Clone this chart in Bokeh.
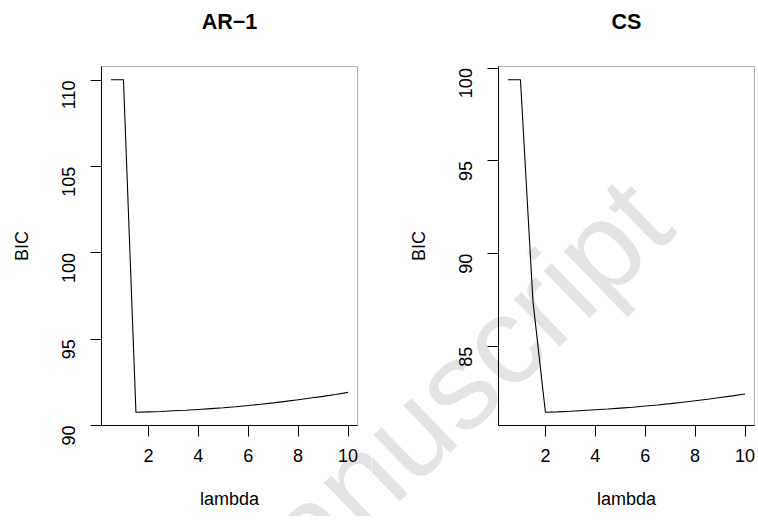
import math
from bokeh.plotting import figure
from bokeh.models import Range1d, FixedTicker, Label, LinearAxis, BoxAnnotation
from bokeh.layouts import row
from bokeh.embed import file_html
from bokeh.resources import INLINE

# ---- data ----
lam = [0.5, 1.0, 1.5, 2.0, 2.5, 3.0, 3.5, 4.0, 4.5, 5.0,
       5.5, 6.0, 6.5, 7.0, 7.5, 8.0, 8.5, 9.0, 9.5, 10.0]
bic_ar1 = [110.04, 110.04, 90.77, 90.79, 90.81, 90.85, 90.88, 90.93, 90.98, 91.03,
           91.09, 91.16, 91.23, 91.31, 91.40, 91.49, 91.59, 91.69, 91.80, 91.92]
bic_cs = [99.37, 99.37, 87.45, 81.47, 81.49, 81.52, 81.56, 81.60, 81.64, 81.69,
          81.74, 81.80, 81.86, 81.93, 82.01, 82.09, 82.17, 82.26, 82.35, 82.45]
x_ticks = [2, 4, 6, 8, 10]
ar1_ticks = [90, 95, 100, 105, 110]
cs_ticks = [85, 90, 95, 100]
titles = ["AR\u22121", "CS"]
x_label = "lambda"
y_label = "BIC"
watermark = "Manuscript"

FONT = "Liberation Sans"
TICK_FS = "18px"
TITLE_FS = "21.5px"

H = 516
BOX_TOP, BOX_BOTTOM = 66, 425      # plot box, pixels from the top of the canvas
TITLE_BASE = 21                     # title baseline, pixels from top

WM_ANGLE = math.radians(44)
WM_FS = 125
WM_START = (208.0, 625.0)           # watermark start (page pixels)


def pad(vals):
    lo, hi = min(vals), max(vals)
    d = (hi - lo) * 0.04
    return lo - d, hi + d


def panel(title, ys, yticks, width, box_left, box_right, page_x0):
    dx0, dx1 = pad(lam)
    dy0, dy1 = pad(ys)
    ppx = (box_right - box_left) / (dx1 - dx0)
    ppy = (BOX_BOTTOM - BOX_TOP) / (dy1 - dy0)
    xr = Range1d(dx0 - box_left / ppx, dx1 + (width - box_right) / ppx)
    yr = Range1d(dy0 - (H - BOX_BOTTOM) / ppy, dy1 + BOX_TOP / ppy)

    def to_x(px):
        return xr.start + (px - page_x0) / ppx

    def to_y(py):
        return yr.end - py / ppy

    p = figure(width=width, height=H, output_backend="svg", toolbar_location=None,
               x_range=xr, y_range=yr, x_axis_location=None, y_axis_location=None,
               min_border=0)
    p.background_fill_color = "white"
    p.border_fill_color = "white"
    p.outline_line_color = None
    p.grid.visible = False

    # watermark (translucent so that the marks show through)
    p.add_layout(Label(x=to_x(WM_START[0]), y=to_y(WM_START[1]), text=watermark,
                       angle=WM_ANGLE, text_font=FONT, text_font_size=f"{WM_FS}px",
                       text_color="black", text_alpha=0.11, text_align="left",
                       text_baseline="alphabetic", level="underlay"))

    p.line(lam, ys, line_color="black", line_width=1.1)

    # plot box
    p.add_layout(BoxAnnotation(left=dx0, right=dx1, bottom=dy0, top=dy1,
                               fill_color=None, fill_alpha=0, line_color="black",
                               line_width=1, level="overlay"))

    # title
    p.add_layout(Label(x=(dx0 + dx1) / 2, y=to_y(TITLE_BASE), text=title,
                       text_font=FONT, text_font_size=TITLE_FS, text_font_style="bold",
                       text_color="black", text_align="center",
                       text_baseline="alphabetic"))

    xa = LinearAxis(fixed_location=dy0, ticker=FixedTicker(ticks=x_ticks),
                    axis_label=x_label, bounds=(dx0, dx1))
    ya = LinearAxis(fixed_location=dx0, ticker=FixedTicker(ticks=yticks),
                    axis_label=y_label, bounds=(dy0, dy1))
    for ax in (xa, ya):
        ax.axis_line_color = "black"
        ax.major_tick_line_color = "black"
        ax.major_tick_out = 11
        ax.major_tick_in = 0
        ax.minor_tick_line_color = None
        ax.major_label_text_font = FONT
        ax.major_label_text_font_size = TICK_FS
        ax.major_label_text_color = "black"
        ax.axis_label_text_font = FONT
        ax.axis_label_text_font_size = TICK_FS
        ax.axis_label_text_font_style = "normal"
        ax.axis_label_text_color = "black"
    xa.major_label_standoff = 12
    xa.axis_label_standoff = 24
    ya.major_label_orientation = math.pi / 2
    ya.major_label_standoff = 22
    ya.axis_label_standoff = 21
    p.add_layout(xa, "below")
    p.add_layout(ya, "left")
    return p


p1 = panel(titles[0], bic_ar1, ar1_ticks, 371, 101, 357, 0)
p2 = panel(titles[1], bic_cs, cs_ticks, 386, 127, 383, 371)

layout = row(p1, p2, spacing=0)
open("out.html", "w").write(file_html(layout, INLINE))
